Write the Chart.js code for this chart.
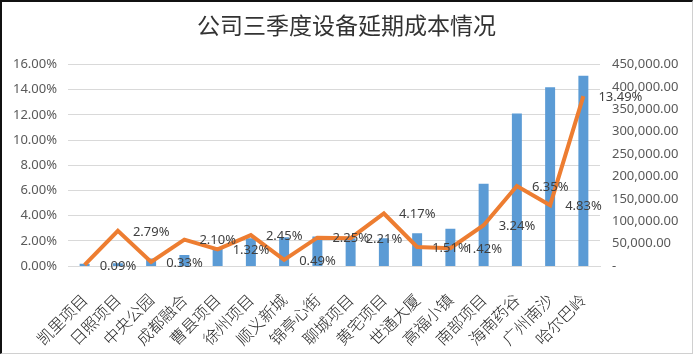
<!DOCTYPE html>
<html>
<head>
<meta charset="utf-8">
<script src="https://cdn.jsdelivr.net/npm/chart.js@4.4.1/dist/chart.umd.min.js"></script>
<style>
  html, body { margin: 0; padding: 0; background: #fff; }
  #wrap { position: relative; width: 693px; height: 355px; }
  #frame { position: absolute; left: 0; top: 0; width: 693px; height: 354px; box-sizing: border-box;
           border-top: 2px solid #111; border-left: 2px solid #111; border-right: 1px solid #d0d0d0; border-bottom: 1px solid #d0d0d0; pointer-events: none; }
</style>
</head>
<body>
<div id="wrap">
  <canvas id="c" width="693" height="355"></canvas>
  <div id="frame"></div>
</div>
<script>
const titleText = '公司三季度设备延期成本情况';
const categories = ['凯里项目','日照项目','中央公园','成都融合','曹县项目','徐州项目','顺义新城','锦亭心街','聊城项目','黄宅项目','世通大厦','高福小镇','南部项目','海南药谷','广州南沙','哈尔巴岭'];
const costValues = [5000, 6000, 17000, 24500, 42000, 62000, 64000, 66000, 62000, 62000, 73000, 83500, 184000, 341000, 399500, 425000];
const ratioValues = [0.09, 2.79, 0.33, 2.10, 1.32, 2.45, 0.49, 2.25, 2.21, 4.17, 1.51, 1.42, 3.24, 6.35, 4.83, 13.49];
const leftTicks = [0, 2, 4, 6, 8, 10, 12, 14, 16];
const rightTicks = [0, 50000, 100000, 150000, 200000, 250000, 300000, 350000, 400000, 450000];

const labelPlugin = {
  id: 'lineLabels',
  afterDatasetsDraw(chart) {
    const meta = chart.getDatasetMeta(0);
    const ctx = chart.ctx;
    ctx.save();
    ctx.font = '13px "Noto Sans", sans-serif';
    ctx.fillStyle = '#404040';
    ctx.textAlign = 'left';
    ctx.textBaseline = 'middle';
    meta.data.forEach((pt, i) => {
      ctx.fillText(ratioValues[i].toFixed(2) + '%', pt.x + 15, pt.y + 1);
    });
    ctx.restore();
  }
};

new Chart(document.getElementById('c'), {
  type: 'bar',
  data: {
    labels: categories,
    datasets: [
      {
        type: 'line',
        label: '比例',
        data: ratioValues,
        yAxisID: 'yL',
        borderColor: '#ED7D31',
        backgroundColor: '#ED7D31',
        borderWidth: 4,
        pointRadius: 0,
        tension: 0,
        order: 0
      },
      {
        type: 'bar',
        label: '成本',
        data: costValues,
        yAxisID: 'yR',
        backgroundColor: '#5B9BD5',
        barPercentage: 0.3,
        categoryPercentage: 1,
        order: 1
      }
    ]
  },
  options: {
    responsive: false,
    animation: false,
    layout: { padding: { left: 0, right: 0, top: 0, bottom: 0 } },
    plugins: {
      legend: { display: false },
      tooltip: { enabled: false },
      title: {
        display: true,
        text: titleText,
        color: '#333333',
        font: { family: '"Noto Sans CJK SC", sans-serif', size: 23, weight: 'normal' },
        padding: { top: 11, bottom: 26 }
      }
    },
    scales: {
      x: {
        grid: { display: false, drawTicks: false },
        border: { display: true, color: '#d9d9d9' },
        ticks: {
          autoSkip: false,
          maxRotation: 45,
          minRotation: 45,
          padding: 24,
          color: '#262626',
          font: { family: '"Noto Sans CJK SC", sans-serif', size: 16, weight: 300 }
        },
        afterFit(scale) { scale.height = 89; }
      },
      yL: {
        position: 'left',
        min: 0,
        max: 16,
        afterBuildTicks(scale) { scale.ticks = leftTicks.map(v => ({ value: v })); },
        grid: { color: '#d9d9d9', lineWidth: 1, drawTicks: false },
        border: { display: false },
        ticks: {
          padding: 11,
          color: '#595959',
          font: { family: '"Noto Sans", sans-serif', size: 13 },
          callback: v => v.toFixed(2) + '%'
        },
        afterFit(scale) { scale.width = 68; }
      },
      yR: {
        position: 'right',
        min: 0,
        max: 450000,
        afterBuildTicks(scale) { scale.ticks = rightTicks.map(v => ({ value: v })); },
        grid: { display: false, drawTicks: false },
        border: { display: false },
        ticks: {
          padding: 12,
          color: '#595959',
          font: { family: '"Noto Sans", sans-serif', size: 13 },
          callback: v => v === 0 ? '-' : v.toLocaleString('en-US', { minimumFractionDigits: 2, maximumFractionDigits: 2 })
        },
        afterFit(scale) { scale.width = 93; }
      }
    }
  },
  plugins: [labelPlugin]
});
</script>
</body>
</html>
